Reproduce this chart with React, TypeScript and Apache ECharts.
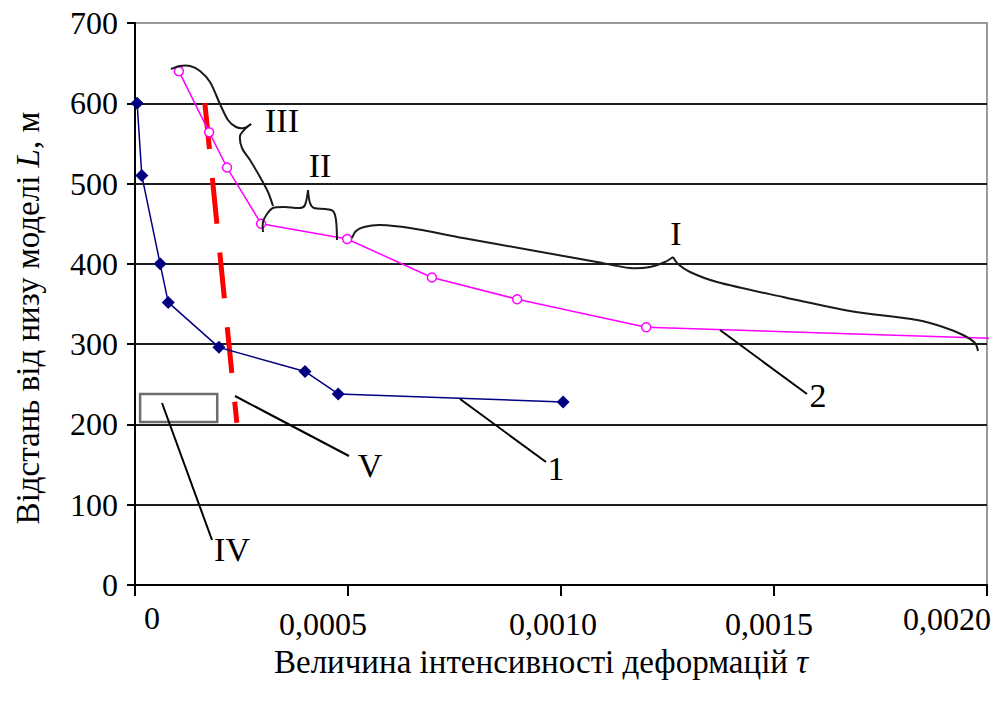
import React, { useEffect, useRef } from 'react';
import * as echarts from 'echarts';

// Curve 1 (navy, diamonds)
const curve1X = [0.000005, 0.000016, 0.000059, 0.000078, 0.000197, 0.000399, 0.000477, 0.001005];
const curve1Y = [600, 510, 400, 352, 296, 266, 238, 228];

// Curve 2 (magenta, open markers)
const curve2X = [0.000103, 0.000174, 0.000216, 0.000296, 0.000498, 0.000697, 0.000897, 0.0012, 0.00202];
const curve2Y = [640, 564, 520, 450, 431, 383, 356, 321, 307];

// Boundary V (red dashed)
const boundaryX = [0.000164, 0.000239];
const boundaryY = [600, 202];

// Zone IV rectangle corners
const zoneIVX = [0.000012, 0.000193];
const zoneIVY = [238, 203];

const xTickLabels = ['0', '0,0005', '0,0010', '0,0015', '0,0020'];

export default function App() {
  const ref = useRef<HTMLDivElement>(null);
  useEffect(() => {
    const chart = echarts.init(ref.current as HTMLDivElement, null, { renderer: 'svg' });
    const font = 'Liberation Serif';
    const fs = 32;
    const lfs = 34;
    const braceStyle = { stroke: '#1a1a1a', lineWidth: 2, fill: null };
    const brace = (pts: number[][]) => ({
      type: 'polyline',
      shape: { points: pts, smooth: 0.3 },
      style: braceStyle,
      silent: true,
      z: 10,
    });
    const leader = (x1: number, y1: number, x2: number, y2: number) => ({
      type: 'line',
      shape: { x1, y1, x2, y2 },
      style: { stroke: '#000', lineWidth: 2 },
      silent: true,
      z: 10,
    });
    const label = (text: string, x: number, y: number) => ({
      type: 'text',
      x,
      y,
      style: { text, fontFamily: font, fontSize: lfs, fill: '#000', align: 'center', verticalAlign: 'middle' },
      z: 11,
    });

    const tok = { fontFamily: font, fontSize: fs, color: '#000' };
    const xRich = {
      a0: { ...tok, padding: [0, 0, 0, 34] },
      a1: { ...tok, padding: [6, 50, 0, 0] },
      a2: { ...tok, padding: [6, 16, 0, 0] },
      a3: { ...tok, padding: [6, 10, 0, 0] },
      a4: { ...tok, padding: [1, 80, 0, 0] },
    };

    const tfs = 33;
    const titleRich = {
      n: { fontFamily: font, fontSize: tfs, fill: '#000' },
      i: { fontStyle: 'italic', fontFamily: font, fontSize: tfs, fill: '#000' },
    };

    const option: any = {
      animation: false,
      backgroundColor: '#fff',
      textStyle: { fontFamily: font },
      grid: {
        left: 135,
        right: 15,
        top: 23,
        bottom: 117,
        show: true,
        borderColor: '#9a9a9a',
        borderWidth: 2,
        backgroundColor: 'rgba(0,0,0,0)',
      },
      xAxis: {
        type: 'value',
        min: 0,
        max: 0.002,
        interval: 0.0005,
        axisLine: { show: true, onZero: false, lineStyle: { color: '#000', width: 2 } },
        axisTick: { show: true, length: 11, lineStyle: { color: '#000', width: 2 } },
        splitLine: { show: false },
        axisLabel: {
          margin: 17,
          fontFamily: font,
          fontSize: fs,
          color: '#000',
          formatter: (_v: number, i: number) => `{a${i}|${xTickLabels[i]}}`,
          rich: xRich,
        },
      },
      yAxis: {
        type: 'value',
        min: 0,
        max: 700,
        interval: 100,
        axisLine: { show: true, lineStyle: { color: '#000', width: 2 } },
        axisTick: { show: true, length: 8, lineStyle: { color: '#000', width: 2 } },
        splitLine: {
          show: true,
          showMinLine: false,
          showMaxLine: false,
          lineStyle: { color: '#1e1e1e', width: 2 },
        },
        axisLabel: {
          margin: 17,
          fontFamily: font,
          fontSize: fs,
          color: '#000',
        },
      },
      graphic: [
        {
          type: 'text',
          x: 28,
          y: 318,
          rotation: Math.PI / 2,
          style: {
            text: '{n|Відстань від низу моделі }{i|L}{n|, м}',
            fill: '#000',
            align: 'center',
            verticalAlign: 'middle',
            rich: titleRich,
          },
        },
        {
          type: 'text',
          x: 541,
          y: 662,
          style: {
            text: '{n|Величина інтенсивності деформацій }{i|τ}',
            fill: '#000',
            align: 'center',
            verticalAlign: 'middle',
            rich: titleRich,
          },
        },
        // Braces
        brace([[171, 69], [180, 66], [190, 66], [200, 71], [210, 82], [220, 104], [228, 120], [236, 127], [244, 128], [251, 124]]),
        brace([[251, 124], [244, 130], [240, 136], [242, 148], [250, 160], [260, 177], [268, 192], [273, 206]]),
        brace([[263, 232], [263, 222], [267, 214], [273, 208], [285, 207], [300, 208], [305, 205], [308, 190]]),
        brace([[308, 190], [310, 203], [314, 208], [325, 209], [333, 211], [336, 220], [337, 240]]),
        brace([[352, 238], [356, 231], [364, 227], [380, 225], [410, 228], [463, 238], [530, 250], [597, 262], [630, 268], [650, 267], [665, 262], [673, 257]]),
        brace([[673, 257], [678, 264], [690, 272], [717, 282], [783, 297], [850, 311], [917, 320], [943, 327], [963, 335], [975, 343], [978, 351]]),
        // Leader lines
        leader(162, 403, 212, 540),
        leader(235, 396, 349, 456),
        leader(460, 399, 546, 462),
        leader(720, 330, 807, 394),
        // Labels
        label('III', 282, 120),
        label('II', 320, 165),
        label('I', 676, 233),
        label('V', 370, 465),
        label('1', 556, 468),
        label('2', 818, 395),
        label('IV', 232, 549),
      ],
      series: [
        {
          type: 'line',
          name: '1',
          data: curve1X.map((x, i) => [x, curve1Y[i]]),
          symbol: 'diamond',
          symbolSize: 13,
          lineStyle: { color: '#000080', width: 1.5 },
          itemStyle: { color: '#000080' },
          clip: false,
          z: 3,
          markArea: {
            silent: true,
            itemStyle: { color: 'rgba(0,0,0,0)', borderColor: '#6e6e6e', borderWidth: 2.5 },
            data: [[{ coord: [zoneIVX[0], zoneIVY[0]] }, { coord: [zoneIVX[1], zoneIVY[1]] }]],
          },
        },
        {
          type: 'line',
          name: '2',
          data: curve2X.map((x, i) =>
            i === curve2X.length - 1 ? { value: [x, curve2Y[i]], symbol: 'none' } : [x, curve2Y[i]]
          ),
          symbol: 'circle',
          symbolSize: 9,
          lineStyle: { color: '#ff00ff', width: 1.5 },
          itemStyle: { color: '#fff', borderColor: '#ff00ff', borderWidth: 1.5 },
          clip: false,
          z: 3,
        },
        {
          type: 'line',
          name: 'V',
          data: boundaryX.map((x, i) => [x, boundaryY[i]]),
          symbol: 'none',
          lineStyle: { color: '#ff0000', width: 5, type: [46, 29], cap: 'butt' },
          z: 2,
        },
      ],
    };
    chart.setOption(option);
    return () => chart.dispose();
  }, []);
  return (
    <div
      ref={ref}
      style={{ position: 'absolute', left: 0, top: 0, width: 1002, height: 702, background: '#fff' }}
    />
  );
}
